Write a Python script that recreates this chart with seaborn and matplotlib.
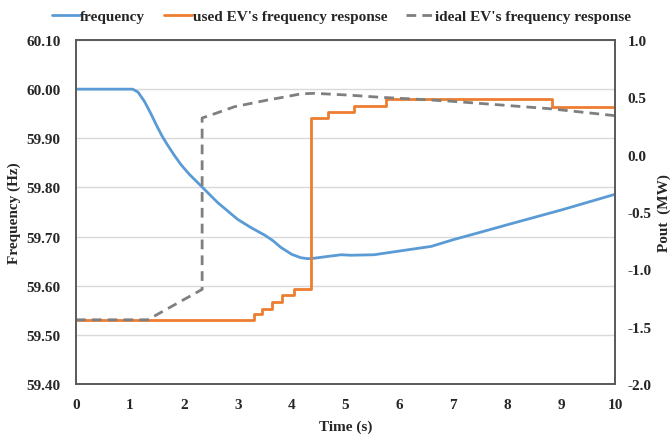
import matplotlib
matplotlib.use("Agg")
import matplotlib.pyplot as plt
import seaborn as sns
import pandas as pd
from matplotlib.lines import Line2D

sns.set_theme(style="white")
plt.rcParams['font.family'] = ['Liberation Serif', 'DejaVu Serif']
plt.rcParams['font.weight'] = 'bold'

# frequency (left axis, Hz)
freq_t = [0, 1.05, 1.15, 1.27, 1.39, 1.5, 1.6, 1.7, 1.82, 1.95, 2.1, 2.32, 2.63, 3.0,
          3.25, 3.5, 3.65, 3.8, 4.0, 4.17, 4.3, 4.42, 4.7, 4.92, 5.1, 5.53, 6.15, 6.59,
          7.01, 7.51, 8.0, 8.5, 9.0, 9.5, 10]
freq_v = [60.0, 60.0, 59.994, 59.975, 59.950, 59.925, 59.904, 59.886, 59.866, 59.846,
          59.827, 59.803, 59.769, 59.735, 59.718, 59.703, 59.692, 59.678, 59.664, 59.657,
          59.655, 59.656, 59.66, 59.663, 59.662, 59.663, 59.673, 59.68, 59.694, 59.709,
          59.724, 59.739, 59.754, 59.770, 59.786]

# used EV's frequency response (right axis, MW), step values
used_t = [0, 3.31, 3.46, 3.63, 3.82, 4.05, 4.36, 4.67, 5.15, 5.75, 8.83, 10]
used_v = [-1.44, -1.386, -1.345, -1.287, -1.225, -1.175, 0.32, 0.374, 0.427, 0.482, 0.42, 0.42]

# ideal EV's frequency response (right axis, MW)
ideal_t = [0, 1.33, 2.34, 2.34, 2.5, 2.94, 3.56, 3.8, 4.17, 4.42, 5.04, 5.66, 6.27,
           6.9, 7.33, 8.81, 10]
ideal_v = [-1.44, -1.44, -1.175, 0.32, 0.345, 0.418, 0.477, 0.497, 0.53, 0.535, 0.52,
           0.50, 0.485, 0.468, 0.453, 0.40, 0.34]

labels = ["frequency", "used EV's frequency response", "ideal EV's frequency response"]
c_blue, c_orange, c_gray = "#5B9BD5", "#ED7D31", "#7F7F7F"
dash = [3.5, 2.2]

fig = plt.figure(figsize=(6.72, 4.39), dpi=100)
ax = fig.add_axes([76/672, 1 - 385/439, (615-76)/672, (385-41)/439])
ax2 = ax.twinx()

df_f = pd.DataFrame({"t": freq_t, "v": freq_v})
df_u = pd.DataFrame({"t": used_t, "v": used_v})
df_i = pd.DataFrame({"t": ideal_t, "v": ideal_v})

sns.lineplot(data=df_f, x="t", y="v", ax=ax, color=c_blue, linewidth=2,
             estimator=None, sort=False, legend=False)
sns.lineplot(data=df_u, x="t", y="v", ax=ax2, color=c_orange, linewidth=2,
             estimator=None, sort=False, drawstyle="steps-post", legend=False)
sns.lineplot(data=df_i, x="t", y="v", ax=ax2, color=c_gray, linewidth=2,
             estimator=None, sort=False, legend=False)
ax2.lines[-1].set_dashes(dash)

ax.set_xlim(0, 10)
ax.set_ylim(59.40, 60.10)
ax2.set_ylim(-2.0, 1.0)
ax.set_xticks(range(0, 11))
ax.set_yticks([59.4 + 0.1 * i for i in range(8)])
ax.set_yticklabels([f"{59.4 + 0.1 * i:.2f}" for i in range(8)])
ax2.set_yticks([-2.0 + 0.5 * i for i in range(7)])
ax2.set_yticklabels([f"{-2.0 + 0.5 * i:.1f}" for i in range(7)])

ax.yaxis.grid(True, color="#D9D9D9", linewidth=1)
ax.xaxis.grid(False)
ax2.grid(False)

for a in (ax, ax2):
    a.tick_params(axis="both", length=0, labelsize=11)
    for s in a.spines.values():
        s.set_color("#595959")
        s.set_linewidth(1.2)
    for lab in a.get_xticklabels() + a.get_yticklabels():
        lab.set_fontweight("bold")
ax.tick_params(axis="y", pad=11)
ax.tick_params(axis="x", pad=10)
ax2.tick_params(axis="y", pad=9)

ax.set_xlabel("Time (s)", fontsize=11, fontweight="bold", labelpad=6)
ax.set_ylabel("Frequency (Hz)", fontsize=11, fontweight="bold", labelpad=4)
ax2.set_ylabel("Pout  (MW)", fontsize=11, fontweight="bold", labelpad=4)

handles = [Line2D([], [], color=c_blue, lw=2),
           Line2D([], [], color=c_orange, lw=2),
           Line2D([], [], color=c_gray, lw=2, dashes=dash)]
fig.legend(handles, labels, loc="center", bbox_to_anchor=(0.508, 0.961), ncol=3,
           frameon=False, prop={"weight": "bold", "size": 11}, handlelength=1.8,
           handletextpad=0.05, columnspacing=1.25)

fig.savefig("out.png", dpi=100)
